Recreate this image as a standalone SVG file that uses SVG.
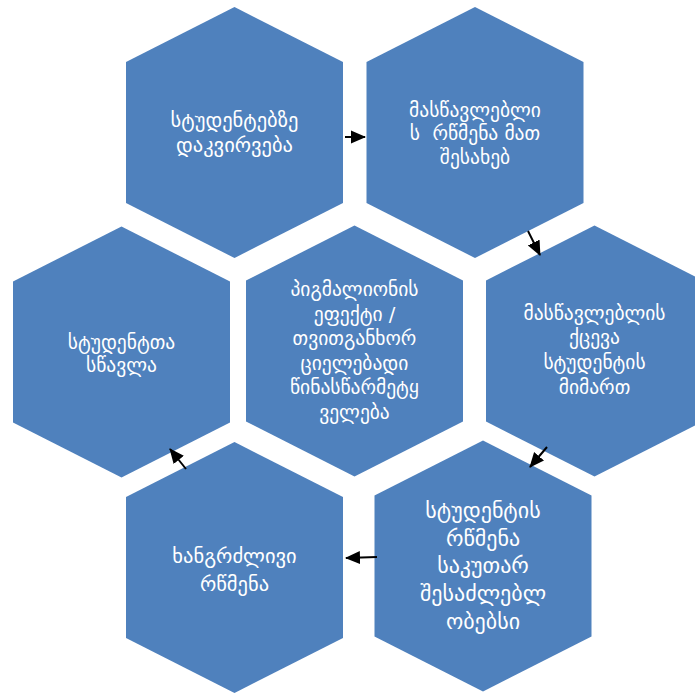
<svg xmlns="http://www.w3.org/2000/svg" width="695" height="693" viewBox="0 0 695 693">
<defs>
<style>
.hex{fill:#4F81BD;}
.t{font-family:"DejaVu Sans","Noto Sans",sans-serif;fill:#FFFFFF;text-anchor:middle;font-size:19.5px;white-space:pre;}
.tb{font-size:20.5px;}
.tl{font-size:22px;}
.c{stroke:#000000;stroke-width:2;fill:none;marker-end:url(#ah);}
</style>
<marker id="ah" markerWidth="15" markerHeight="14" refX="14" refY="7" orient="auto" markerUnits="userSpaceOnUse">
<path d="M0,0.5 L15,7 L0,13.5 Z" fill="#000000"/>
</marker>
<path id="hx" d="M0,-125.5 L108.5,-70.5 L108.5,70.5 L0,125.5 L-108.5,70.5 L-108.5,-70.5 Z"/>
</defs>
<rect width="695" height="693" fill="#FFFFFF"/>
<g id="node1">
<use href="#hx" class="hex" x="234.5" y="132.5"/>
<text class="t tb"><tspan x="234.5" y="127">სტუდენტებზე</tspan><tspan x="234.5" y="152">დაკვირვება</tspan></text>
</g>
<g id="node2">
<use href="#hx" class="hex" x="475" y="132.5"/>
<text class="t"><tspan x="475" y="117">მასწავლებლი</tspan><tspan x="475" y="140">ს  რწმენა მათ</tspan><tspan x="475" y="164">შესახებ</tspan></text>
</g>
<g id="node3">
<use href="#hx" class="hex" x="121.5" y="352"/>
<text class="t"><tspan x="121.5" y="349">სტუდენტთა</tspan><tspan x="121.5" y="372">სწავლა</tspan></text>
</g>
<g id="node4">
<use href="#hx" class="hex" x="354.5" y="351"/>
<text class="t"><tspan x="354.5" y="296">პიგმალიონის</tspan><tspan x="354.5" y="321">ეფექტი /</tspan><tspan x="354.5" y="345">თვითგანხორ</tspan><tspan x="354.5" y="370">ციელებადი</tspan><tspan x="354.5" y="394">წინასწარმეტყ</tspan><tspan x="354.5" y="419">ველება</tspan></text>
</g>
<g id="node5">
<use href="#hx" class="hex" x="594.5" y="351"/>
<text class="t"><tspan x="594.5" y="320">მასწავლებლის</tspan><tspan x="594.5" y="344">ქცევა</tspan><tspan x="594.5" y="369">სტუდენტის</tspan><tspan x="594.5" y="394">მიმართ</tspan></text>
</g>
<g id="node6">
<use href="#hx" class="hex" x="234.5" y="567.5"/>
<text class="t tb"><tspan x="234.5" y="563">ხანგრძლივი</tspan><tspan x="234.5" y="591">რწმენა</tspan></text>
</g>
<g id="node7">
<use href="#hx" class="hex" x="483" y="566"/>
<text class="t tl"><tspan x="483" y="518">სტუდენტის</tspan><tspan x="483" y="546">რწმენა</tspan><tspan x="483" y="573">საკუთარ</tspan><tspan x="483" y="601">შესაძლებლ</tspan><tspan x="483" y="629">ობებსი</tspan></text>
</g>
<g id="connectors">
<line class="c" x1="345" y1="137" x2="365" y2="137"/>
<line class="c" x1="528" y1="231" x2="540" y2="255"/>
<line class="c" x1="547" y1="447" x2="530" y2="467"/>
<line class="c" x1="377" y1="557" x2="346" y2="558"/>
<line class="c" x1="186" y1="469" x2="170" y2="449"/>
</g>
</svg>
